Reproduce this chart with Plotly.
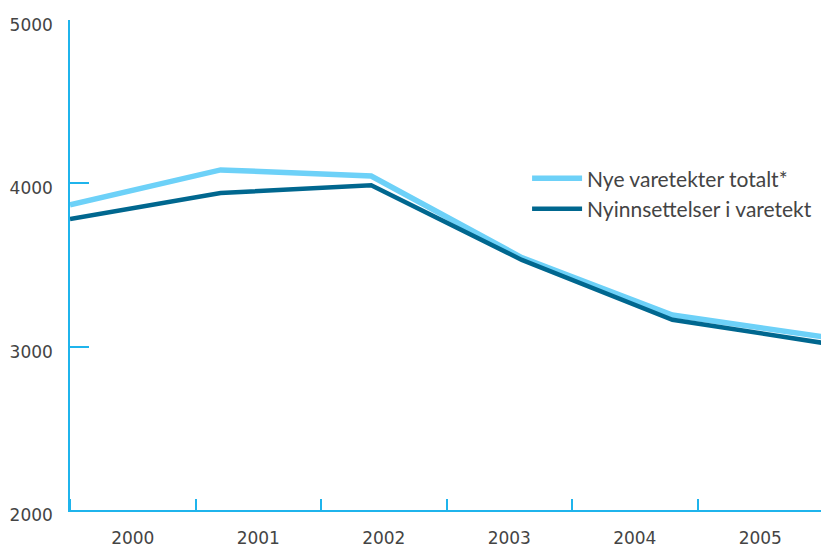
import plotly.graph_objects as go

years = ["2000", "2001", "2002", "2003", "2004", "2005"]
nye_totalt = [3868, 4082, 4045, 3545, 3194, 3060]
nyinnsettelser = [3782, 3941, 3988, 3531, 3165, 3023]
y_ticks = [2000, 3000, 4000, 5000]

n = len(years)
# points spread evenly across the full width of the category bands
xs = [i * n / (n - 1) for i in range(n)]

axis_col = "#1fb4ec"
font_col = "#444444"

fig = go.Figure()
fig.add_trace(go.Scatter(
    x=xs, y=nye_totalt, mode="lines", name="Nye varetekter totalt*",
    line=dict(color="#6dd1f8", width=5.5), legendgroup="a",
))
fig.add_trace(go.Scatter(
    x=xs, y=nyinnsettelser, mode="lines", name="Nyinnsettelser i varetekt",
    line=dict(color="#00678f", width=4.5), legendgroup="b",
))

fig.update_layout(
    width=829, height=547,
    margin=dict(l=62, r=14, t=12, b=45, autoexpand=False),
    paper_bgcolor="white", plot_bgcolor="white",
    font=dict(family="DejaVu Sans", size=17, color=font_col),
    showlegend=True,
    legend=dict(
        x=0.607, y=0.718, xanchor="left", yanchor="top",
        traceorder="grouped", tracegroupgap=0, itemwidth=50,
        font=dict(family="Lato", size=21, color=font_col),
        bgcolor="rgba(0,0,0,0)",
    ),
    xaxis=dict(
        range=[0, n], showgrid=False, zeroline=False, automargin=False,
        showline=True, linecolor=axis_col, linewidth=1.5,
        tickmode="array", tickvals=[i + 0.5 for i in range(n)], ticktext=years,
        ticks="", ticklabelstandoff=12,
        minor=dict(tickmode="linear", tick0=0, dtick=1, ticks="inside",
                   ticklen=11, tickcolor=axis_col, tickwidth=1.5),
    ),
    yaxis=dict(
        range=[2000, 5000], showgrid=False, zeroline=False, automargin=False,
        showline=True, linecolor=axis_col, linewidth=1.5,
        tickmode="array", tickvals=y_ticks,
        ticks="inside", ticklen=19, tickcolor=axis_col, tickwidth=1.5,
        ticklabelstandoff=12, ticklabelshift=5,
    ),
)

fig.write_html("out.html")
